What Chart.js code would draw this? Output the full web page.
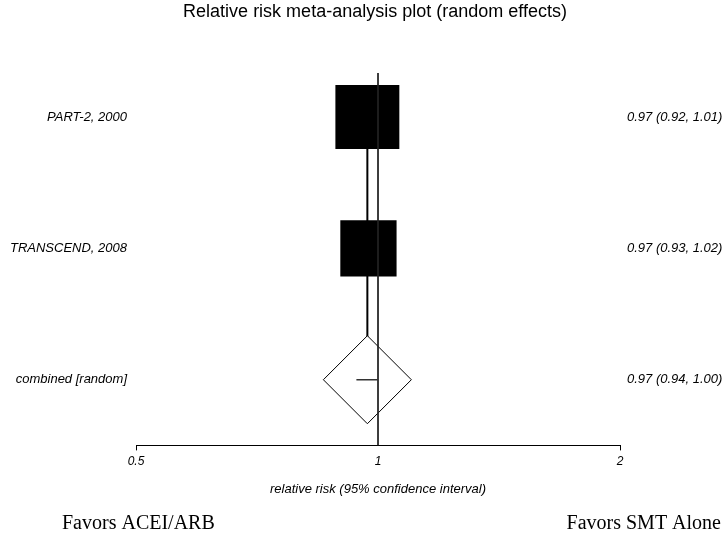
<!DOCTYPE html>
<html>
<head>
<meta charset="utf-8">
<script src="https://cdn.jsdelivr.net/npm/chart.js@4.4.1/dist/chart.umd.min.js"></script>
<style>
  html, body { margin: 0; padding: 0; background: #fff; }
  #wrap { width: 726px; height: 541px; position: relative; }
</style>
</head>
<body>
<div id="wrap"><canvas id="forest"></canvas></div>
<script>
// estudios individuales
const studyLabels = ['PART-2, 2000', 'TRANSCEND, 2008'];
const studyRR = [0.97, 0.973];
const studyLower = [0.92, 0.93];
const studyUpper = [1.01, 1.02];
const studyWeight = [56.6, 43.8];

// efecto combinado
const pooledLabel = 'combined [random]';
const pooledRR = 0.97;
const pooledLower = 0.94;
const pooledUpper = 1.00;

// eje x
const xTicks = [0.5, 1, 2];
const xTitle = 'relative risk (95% confidence interval)';
const chartTitle = 'Relative risk meta-analysis plot (random effects)';
const favorsLeft = 'Favors ACEI/ARB';
const favorsRight = 'Favors SMT Alone';

// filas: estudios arriba, combinado abajo
const nRows = studyLabels.length + 1;
const rowOf = i => nRows - i;
const rowLabels = {};
const rowCI = {};
const fmt = v => v.toFixed(2);
studyLabels.forEach((lab, i) => {
  rowLabels[rowOf(i)] = lab;
  rowCI[rowOf(i)] = `${fmt(studyRR[i])} (${fmt(studyLower[i])}, ${fmt(studyUpper[i])})`;
});
rowLabels[1] = pooledLabel;
rowCI[1] = `${fmt(pooledRR)} (${fmt(pooledLower)}, ${fmt(pooledUpper)})`;

const yMin = 0.5, yMax = nRows + 0.335;
const boxScale = 8.5;          // lado de la caja = boxScale * sqrt(peso)
const diamondRadius = 44;
const sans = 'Liberation Sans, Arial, sans-serif';
const labelFont = { family: sans, size: 13, style: 'italic' };

const datasets = [];

// linea vertical del efecto combinado (detras de todo)
datasets.push({
  type: 'line',
  data: [{ x: pooledRR, y: rowOf(0) }, { x: pooledRR, y: 1 }],
  borderColor: '#000', borderWidth: 2, pointRadius: 0, order: 10
});

// intervalos de cada estudio
studyLabels.forEach((lab, i) => {
  datasets.push({
    type: 'line',
    data: [{ x: studyLower[i], y: rowOf(i) }, { x: studyUpper[i], y: rowOf(i) }],
    borderColor: '#000', borderWidth: 1, pointRadius: 0, order: 9
  });
});

// diamante del combinado
datasets.push({
  type: 'scatter',
  data: [{ x: pooledRR, y: 1 }],
  pointStyle: 'rectRot',
  pointRadius: diamondRadius,
  backgroundColor: '#fff', borderColor: '#000', borderWidth: 1, order: 8
});

// cajas de los estudios
datasets.push({
  type: 'scatter',
  data: studyRR.map((v, i) => ({ x: v, y: rowOf(i) })),
  pointStyle: 'rect',
  pointRadius: studyWeight.map(w => boxScale * Math.sqrt(w) / Math.SQRT2),
  backgroundColor: '#000', borderColor: '#000', borderWidth: 0, order: 7
});

// linea de no efecto (RR = 1)
datasets.push({
  type: 'line',
  data: [{ x: 1, y: yMax }, { x: 1, y: yMin }],
  borderColor: '#222', borderWidth: 1, pointRadius: 0, order: 2
});

// intervalo del combinado
datasets.push({
  type: 'line',
  data: [{ x: pooledLower, y: 1 }, { x: pooledUpper, y: 1 }],
  borderColor: '#333', borderWidth: 1.5, pointRadius: 0, order: 1
});

// titulo centrado sobre el area del grafico + textos "Favors"
const textosPlugin = {
  id: 'textos',
  afterDraw(chart) {
    const ctx = chart.ctx;
    const area = chart.chartArea;
    ctx.save();
    ctx.fillStyle = '#000';
    ctx.textBaseline = 'middle';
    ctx.textAlign = 'center';
    ctx.font = `18px ${sans}`;
    ctx.fillText(chartTitle, (area.left + area.right) / 2 - 3, 12);
    ctx.font = '20px "Liberation Serif", "Times New Roman", serif';
    ctx.textAlign = 'left';
    ctx.fillText(favorsLeft, 62, 524);
    ctx.textAlign = 'right';
    ctx.fillText(favorsRight, 721, 524);
    ctx.restore();
  }
};

new Chart(document.getElementById('forest'), {
  data: { datasets },
  options: {
    responsive: true,
    maintainAspectRatio: false,
    animation: false,
    layout: { padding: { top: 73, bottom: 43.6, left: 0, right: 0 } },
    plugins: {
      legend: { display: false },
      tooltip: { enabled: false },
      title: { display: false }
    },
    scales: {
      x: {
        type: 'logarithmic',
        min: xTicks[0],
        max: xTicks[xTicks.length - 1],
        afterBuildTicks: s => { s.ticks = xTicks.map(v => ({ value: v })); },
        grid: {
          display: true, drawOnChartArea: false, drawTicks: true, tickLength: 5,
          tickColor: c => (c.tick && c.tick.value === 1 ? 'rgba(0,0,0,0)' : '#000')
        },
        border: { display: true, color: '#000', width: 1 },
        ticks: {
          color: '#000', padding: 4, autoSkip: false, maxRotation: 0,
          font: { family: sans, size: 12, style: 'italic' },
          callback: v => String(v)
        },
        title: {
          display: true, text: xTitle, color: '#000',
          font: { family: sans, size: 13, style: 'italic' },
          padding: { top: 9, bottom: 0 }
        }
      },
      y: {
        type: 'linear', position: 'left', min: yMin, max: yMax,
        afterBuildTicks: s => { s.ticks = [1, 2, 3].map(v => ({ value: v })); },
        afterFit: s => { s.width = 136; },
        grid: { display: false, drawTicks: false },
        border: { display: false },
        ticks: { color: '#000', padding: 9, font: labelFont, callback: v => rowLabels[v] || '' }
      },
      y2: {
        type: 'linear', position: 'right', min: yMin, max: yMax,
        afterBuildTicks: s => { s.ticks = [1, 2, 3].map(v => ({ value: v })); },
        afterFit: s => { s.width = 106; },
        grid: { display: false, drawTicks: false },
        border: { display: false },
        ticks: { color: '#000', padding: 7, font: labelFont, callback: v => rowCI[v] || '' }
      }
    }
  },
  plugins: [textosPlugin]
});
</script>
</body>
</html>
